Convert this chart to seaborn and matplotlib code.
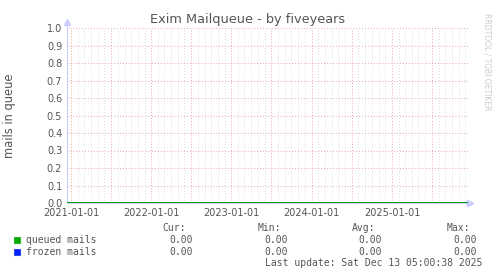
import matplotlib
matplotlib.use("Agg")
import matplotlib.pyplot as plt
import matplotlib.dates as mdates
import matplotlib.ticker as mticker
import seaborn as sns
import pandas as pd
import numpy as np

# ---- data ----
dates = pd.to_datetime(["2020-12-13", "2021-12-13", "2022-12-13", "2023-12-13", "2024-12-13", "2025-12-13"])
queued = [0.0, 0.0, 0.0, 0.0, 0.0, 0.0]
frozen = [0.0, 0.0, 0.0, 0.0, 0.0, 0.0]
series_names = ["queued mails", "frozen mails"]
series_colors = ["#00AA00", "#0022FF"]
cur = [0.00, 0.00]
mins = [0.00, 0.00]
avgs = [0.00, 0.00]
maxs = [0.00, 0.00]
yticks = [0.0, 0.1, 0.2, 0.3, 0.4, 0.5, 0.6, 0.7, 0.8, 0.9, 1.0]
title = "Exim Mailqueue - by fiveyears"
ylabel = "mails in queue"
last_update = "Last update: Sat Dec 13 05:00:38 2025"

sns.set_theme(style="white")
plt.rcParams['font.family'] = ['DejaVu Sans']

W, H = 497, 276
fig = plt.figure(figsize=(W / 100, H / 100), dpi=100, facecolor="white")
L, R, T, B = 67, 468, 28, 203
ax = fig.add_axes([L / W, 1 - B / H, (R - L) / W, (B - T) / H])
ax.set_facecolor("white")

df = pd.DataFrame({"date": list(dates) * 2,
                   "value": frozen + queued,
                   "series": [series_names[1]] * len(dates) + [series_names[0]] * len(dates)})
sns.lineplot(data=df, x="date", y="value", hue="series",
             palette={series_names[0]: series_colors[0], series_names[1]: series_colors[1]},
             linewidth=1.3, ax=ax, legend=False, zorder=5)

ax.set_xlim(dates[0], dates[-1])
ax.set_ylim(0, 1.0)

red = "#E8A8A8"
gray = "#DDDDDD"
txt = "#555555"

ax.xaxis.set_major_locator(mdates.MonthLocator(bymonth=[1, 7]))
ax.xaxis.set_major_formatter(mticker.FuncFormatter(
    lambda v, p: mdates.num2date(v).strftime("%Y-%m-%d") if mdates.num2date(v).month == 1 else ""))
ax.xaxis.set_minor_locator(mdates.MonthLocator())
ax.set_yticks(yticks)
ax.yaxis.set_major_formatter(mticker.FormatStrFormatter("%.1f"))

ax.grid(which="minor", axis="x", color=gray, linestyle=(0, (1, 2)), linewidth=0.7)
ax.grid(which="major", axis="x", color=red, linestyle=(0, (1, 2)), linewidth=0.7)
ax.grid(which="major", axis="y", color=red, linestyle=(0, (1, 2)), linewidth=0.7)
ax.set_axisbelow(True)

for s in ["top", "right"]:
    ax.spines[s].set_visible(False)
ax.spines["left"].set_color("#CCCCFF")
ax.spines["bottom"].set_color("#CCCCFF")
ax.spines["left"].set_linewidth(0.8)
ax.spines["bottom"].set_linewidth(0.8)
ax.spines["left"].set_bounds(0, 1.03)

ax.tick_params(axis="both", which="major", labelsize=7, labelcolor=txt, color=red,
               length=2, width=0.7, pad=1.5)
ax.tick_params(axis="x", which="minor", length=0)
ax.set_xlabel("")
ax.set_ylabel("")

# axis arrows
ax.plot([0], [1.035], marker="^", color="#CCCCFF", markersize=4, transform=ax.transAxes, clip_on=False)
ax.plot([1.006, 1.006], [0, 0], marker=">", color="#CCCCFF", markersize=4, transform=ax.transAxes, clip_on=False)

fig.text(248 / W, 1 - 20 / H, title, ha="center", va="center", fontsize=9.3, color=txt)
fig.text(10 / W, 1 - 116 / H, ylabel, ha="center", va="center", rotation=90, fontsize=8.3, color=txt)
fig.text(487 / W, 1 - 62 / H, "RRDTOOL / TOBI OETIKER", ha="center", va="center", rotation=270,
         fontsize=5.5, color="#CCCCCC")

mono = "DejaVu Sans Mono"
fs = 7
y0 = 1 - 228 / H
fig.text(186 / W, y0, "Cur:", ha="right", va="center", family=mono, fontsize=fs, color=txt)
fig.text(281 / W, y0, "Min:", ha="right", va="center", family=mono, fontsize=fs, color=txt)
fig.text(375 / W, y0, "Avg:", ha="right", va="center", family=mono, fontsize=fs, color=txt)
fig.text(470 / W, y0, "Max:", ha="right", va="center", family=mono, fontsize=fs, color=txt)
for i, name in enumerate(series_names):
    yy = 1 - (240 + 12 * i) / H
    fig.patches.append(plt.Rectangle((14 / W, yy - 3.5 / H), 6.5 / W, 6.5 / H, transform=fig.transFigure,
                                     facecolor=series_colors[i], edgecolor="#DDDDDD", linewidth=0.3))
    fig.text(26 / W, yy, name, ha="left", va="center", family=mono, fontsize=fs, color=txt)
    fig.text(193 / W, yy, f"{cur[i]:.2f}", ha="right", va="center", family=mono, fontsize=fs, color=txt)
    fig.text(288 / W, yy, f"{mins[i]:.2f}", ha="right", va="center", family=mono, fontsize=fs, color=txt)
    fig.text(382 / W, yy, f"{avgs[i]:.2f}", ha="right", va="center", family=mono, fontsize=fs, color=txt)
    fig.text(477 / W, yy, f"{maxs[i]:.2f}", ha="right", va="center", family=mono, fontsize=fs, color=txt)
fig.text(482 / W, 1 - 263.5 / H, last_update, ha="right", va="center", family=mono, fontsize=fs, color=txt)

fig.savefig("out.png", dpi=100, facecolor="white")
